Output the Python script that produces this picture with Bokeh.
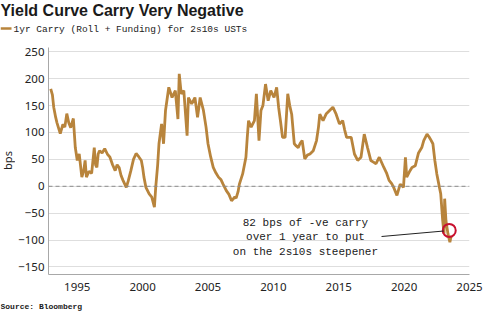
from bokeh.plotting import figure
from bokeh.layouts import column, row
from bokeh.models import Label, Span, Arrow, FixedTicker, ColumnDataSource
from bokeh.embed import file_html
from bokeh.resources import INLINE
import math

# ---- data ----
years = [1992.97, 1993.1, 1993.2, 1993.35, 1993.45, 1993.7, 1993.9, 1994.05, 1994.2, 1994.35,
         1994.5, 1994.7, 1994.85, 1995.0, 1995.15, 1995.35, 1995.5, 1995.6, 1995.7, 1995.9,
         1996.1, 1996.3, 1996.4, 1996.5, 1996.6, 1996.7, 1996.9, 1997.1, 1997.3, 1997.5,
         1997.7, 1997.9, 1998.05, 1998.2, 1998.35, 1998.5, 1998.75, 1998.9, 1999.1, 1999.3,
         1999.5, 1999.7, 1999.9, 2000.0, 2000.1, 2000.25, 2000.5, 2000.7, 2000.9, 2001.0,
         2001.15, 2001.25, 2001.45, 2001.6, 2001.75, 2002.0, 2002.25, 2002.5, 2002.7, 2002.8,
         2002.95, 2003.15, 2003.4, 2003.5, 2003.75, 2004.0, 2004.2, 2004.4, 2004.65, 2004.85,
         2005.0, 2005.2, 2005.4, 2005.6, 2005.8, 2006.0, 2006.15, 2006.4, 2006.6, 2006.8,
         2007.05, 2007.15, 2007.3, 2007.4, 2007.65, 2007.9, 2008.0, 2008.1, 2008.3, 2008.55,
         2008.7, 2008.9, 2009.05, 2009.2, 2009.4, 2009.6, 2009.8, 2010.05, 2010.25, 2010.4,
         2010.55, 2010.7, 2010.9, 2011.1, 2011.25, 2011.4, 2011.6, 2011.75, 2011.9, 2012.05,
         2012.2, 2012.4, 2012.6, 2012.8, 2013.05, 2013.3, 2013.45, 2013.55, 2013.8, 2014.05,
         2014.3, 2014.55, 2014.8, 2015.05, 2015.3, 2015.45, 2015.6, 2015.95, 2016.2, 2016.45,
         2016.7, 2016.95, 2017.2, 2017.45, 2017.65, 2017.85, 2018.1, 2018.45, 2018.65, 2018.85,
         2019.05, 2019.2, 2019.45, 2019.7, 2019.95, 2020.1, 2020.2, 2020.45, 2020.6, 2020.85,
         2021.1, 2021.35, 2021.5, 2021.75, 2021.9, 2022.0, 2022.2, 2022.35, 2022.5, 2022.7,
         2022.8, 2022.95, 2023.05, 2023.1, 2023.2, 2023.35, 2023.5, 2023.6]
carry = [181, 170, 147, 128, 118, 98, 115, 110, 135, 118,
         109, 126, 72, 48, 60, 17, 30, 48, 17, 28,
         24, 72, 40, 35, 60, 66, 62, 70, 60, 54,
         40, 29, 40, 35, 20, 11, -2, 10, 29, 50,
         61, 55, 48, 35, 17, -2, -14, -20, -39, -2,
         40, 79, 116, 79, 141, 184, 165, 178, 125, 209,
         172, 178, 94, 165, 153, 165, 128, 165, 141, 110,
         79, 55, 35, 25, 17, 12, 4, -8, -15, -27,
         -20, -22, -10, 4, 23, 54, 90, 122, 110, 122,
         172, 85, 141, 150, 190, 159, 178, 165, 184, 147,
         120, 91, 91, 172, 150, 134, 79, 75, 72, 80,
         85, 51, 58, 60, 66, 85, 110, 134, 122, 135,
         141, 147, 134, 116, 122, 105, 91, 91, 60, 48,
         54, 97, 72, 48, 45, 42, 54, 35, 25, 11,
         5, -2, -17, 4, -2, 54, 17, 29, 35, 38,
         62, 72, 85, 97, 92, 88, 79, 48, 23, -2,
         -14, -64, -88, -23, -64, -88, -104, -92]
y_ticks = [-150, -100, -50, 0, 50, 100, 150, 200, 250]
x_ticks = [1995, 2000, 2005, 2010, 2015, 2020, 2025]
highlight_year = [2023.45]
highlight_value = [-82]

title_text = "Yield Curve Carry Very Negative"
series_name = "1yr Carry (Roll + Funding) for 2s10s USTs"
note_lines = ["82 bps of -ve carry", "over 1 year to put", "on the 2s10s steepener"]
source_text = "Source: Bloomberg"
y_label = "bps"

# ---- layout ----
W = 485
HEAD_H, FOOT_H = 44, 22
STRIP_W = 15
L, R, T, B = 43, 16, 3, 25
FRAME_H = 227
MAIN_H = FRAME_H + T + B
X0, X1 = 1992.8, 2025.0
Y0, Y1 = -164.0, 258.0
fw = W - L - R

def sx(px):
    return X0 + (px - L) * (X1 - X0) / fw

def sy(py):  # py measured in full-picture pixels
    return Y1 - (py - (HEAD_H + T)) * (Y1 - Y0) / FRAME_H

COLOR = "#b8843c"
TXT = "#1a1a1a"

def no_align(fig):
    if "frame_align" in fig.properties():
        fig.frame_align = False

def strip(width, height):
    f = figure(width=width, height=height, x_range=(0, width), y_range=(height, 0),
               x_axis_type=None, y_axis_type=None, output_backend="svg",
               toolbar_location=None, min_border=0)
    f.outline_line_color = None
    no_align(f)
    return f

# ---- header ----
head = strip(W, HEAD_H)
head.add_layout(Label(x=0, y=9.5, text=title_text, text_align="left",
                      text_baseline="middle", text_font="Liberation Sans",
                      text_font_style="bold", text_font_size="16px", text_color=TXT))
head.add_layout(Arrow(x_start=0, y_start=28, x_end=11, y_end=28, end=None,
                      line_color=COLOR, line_width=2.5))
head.add_layout(Label(x=13, y=28.5, text=series_name, text_align="left",
                      text_baseline="middle", text_font="Liberation Mono",
                      text_font_size="9.5px", text_color="#222222"))

# ---- left strip with the axis title ----
side = strip(STRIP_W, MAIN_H)
side.add_layout(Label(x=7, y=160 - HEAD_H, text=y_label, angle=math.pi / 2,
                      text_align="center", text_baseline="middle",
                      text_font="Noto Sans", text_font_size="11px", text_color="#222222"))

# ---- main chart ----
p = figure(width=W - STRIP_W, height=MAIN_H, x_range=(X0, X1), y_range=(Y0, Y1),
           output_backend="svg", toolbar_location=None,
           min_border_left=L - STRIP_W, min_border_right=R, min_border_top=T,
           min_border_bottom=B)
p.outline_line_color = None

p.xgrid.grid_line_color = None
p.ygrid.grid_line_color = "#dedede"
p.ygrid.grid_line_width = 1

for ax in (p.xaxis[0], p.yaxis[0]):
    ax.axis_line_color = "#a8a8a8"
    ax.major_tick_line_color = None
    ax.minor_tick_line_color = None
    ax.major_tick_out = 0
    ax.major_tick_in = 0
    ax.major_label_text_font = "Noto Sans"
    ax.major_label_text_font_size = "11.5px"
    ax.major_label_text_color = "#222222"

p.yaxis.ticker = FixedTicker(ticks=y_ticks)
p.xaxis.ticker = FixedTicker(ticks=x_ticks)
p.yaxis.major_label_standoff = 4
p.xaxis.major_label_standoff = 8

p.add_layout(Span(location=0, dimension="width", line_color="#8c8c8c",
                  line_dash="4 3", line_width=1))

src = ColumnDataSource(dict(x=years, y=carry))
p.line("x", "y", source=src, line_color=COLOR, line_width=2.8)

p.scatter(highlight_year, highlight_value, marker="circle", size=13,
          fill_color=None, line_color="#c8102e", line_width=2)

p.add_layout(Arrow(x_start=sx(380), y_start=sy(236), x_end=sx(443), y_end=sy(230.5),
                   end=None, line_color="#222222", line_width=1))

for i, t in enumerate(note_lines):
    p.add_layout(Label(x=sx(303), y=sy(222 + 14.5 * i), text=t, text_align="center",
                       text_baseline="middle", text_font="Liberation Mono",
                       text_font_size="11px", text_color=TXT))

# ---- footer ----
foot = strip(W, FOOT_H)
foot.add_layout(Label(x=0, y=306 - HEAD_H - MAIN_H, text=source_text, text_align="left",
                      text_baseline="middle", text_font="Liberation Mono",
                      text_font_style="bold", text_font_size="8px", text_color=TXT))

layout = column(head, row(side, p, spacing=0), foot, spacing=0)
open("out.html", "w").write(file_html(layout, INLINE))
